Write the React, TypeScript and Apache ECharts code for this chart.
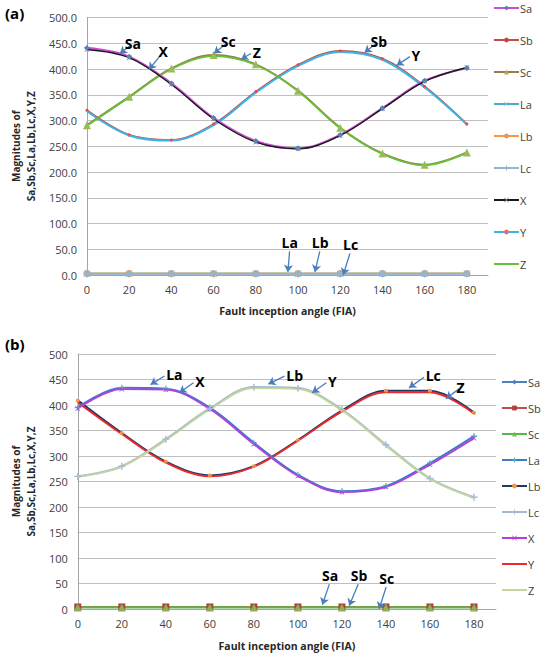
import React, { useEffect, useRef } from 'react';
import * as echarts from 'echarts';

// fault inception angles (x axis)
const angles = [0, 20, 40, 60, 80, 100, 120, 140, 160, 180];
const legendNames = ['Sa', 'Sb', 'Sc', 'La', 'Lb', 'Lc', 'X', 'Y', 'Z'];

// panel (a)
const aSa = [441, 424, 372, 305, 260, 246, 272, 324, 377, 402];
const aSb = [320, 272, 262, 293, 356, 408, 435, 420, 366, 293];
const aSc = [291, 346, 401, 427, 409, 358, 286, 236, 214, 238];
const aLa = [2.5, 2.5, 2.5, 2.5, 2.5, 2.5, 2.5, 2.5, 2.5, 2.5];
const aLb = [3, 3, 3, 3, 3, 3, 3, 3, 3, 3];
const aLc = [2, 2, 2, 2, 2, 2, 2, 2, 2, 2];
const aX = [438, 422, 370, 303, 258, 245, 271, 323, 376, 403];
const aY = [318, 271, 261, 291, 354, 406, 433, 418, 364, 292];
const aZ = [290, 345, 400, 425, 408, 357, 285, 235, 213, 237];

// panel (b)
const bSa = [3.5, 3.5, 3.5, 3.5, 3.5, 3.5, 3.5, 3.5, 3.5, 3.5];
const bSb = [4, 4, 4, 4, 4, 4, 4, 4, 4, 4];
const bSc = [3, 3, 3, 3, 3, 3, 3, 3, 3, 3];
const bLa = [395, 434, 432, 395, 326, 263, 231, 241, 286, 339];
const bLb = [409, 345, 289, 262, 280, 331, 389, 428, 428, 385];
const bLc = [260, 280, 333, 393, 435, 433, 391, 322, 256, 219];
const bX = [393, 431, 430, 392, 323, 261, 229, 239, 283, 335];
const bY = [405, 343, 287, 260, 279, 330, 387, 425, 425, 383];
const bZ = [259, 279, 331, 391, 433, 431, 389, 320, 255, 218];

const FONT = 'Open Sans';
const CROSS = 'path://M0,1L1,0L5,4L9,0L10,1L6,5L10,9L9,10L5,6L1,10L0,9L4,5Z';
const PLUS = 'path://M4,0H6V4H10V6H6V10H4V6H0V4H4Z';
const ARROW_COLOR = '#4A7EBB';

// annotation arrow from tail (label side) to tip, in data units
function arrow(tail: number[], tip: number[]) {
  return {
    silent: true,
    symbol: ['none', 'arrow'],
    symbolSize: 7,
    lineStyle: { color: ARROW_COLOR, width: 1.3, type: 'solid' },
    label: {
      show: true,
      position: 'start',
      formatter: '{b}',
      color: '#000',
      fontFamily: FONT,
      fontWeight: 'bold',
      fontSize: 14,
      distance: 2,
    },
    data: [[{ coord: tail }, { coord: tip }]],
  };
}

function line(name: string, values: number[], s: any, ann?: any) {
  const ml = ann ? { ...ann } : undefined;
  if (ml) ml.data = [[{ ...ml.data[0][0], name }, ml.data[0][1]]];
  return {
    name,
    type: 'line',
    smooth: 0.35,
    data: angles.map((a, i) => [a, values[i]]),
    symbol: s.symbol,
    symbolSize: s.size,
    lineStyle: { color: s.line, width: s.width ?? 1.8 },
    itemStyle: { color: s.marker ?? s.line },
    markLine: ml,
    z: s.z ?? 2,
  };
}

// legend entries; series drawn without markers get a plain line icon
function legendData(noMarker: string[]) {
  return legendNames.map((n) => (noMarker.includes(n) ? { name: n, itemStyle: { opacity: 0 } } : { name: n }));
}

function baseOption(tag: string, fmt: (v: number) => string, grid: any, legendTop: number, legendLeft: number, gap: number, titleTop: number, nameGapX: number, noMarker: string[]) {
  return {
    animation: false,
    textStyle: { fontFamily: FONT },
    title: {
      text: tag,
      left: 0,
      top: titleTop,
      textStyle: { fontFamily: FONT, fontWeight: 'bold', fontSize: 15, color: '#000' },
    },
    grid,
    legend: {
      orient: 'vertical',
      left: legendLeft,
      top: legendTop,
      padding: 0,
      data: legendData(noMarker),
      itemWidth: 25,
      itemHeight: 6,
      itemGap: gap,
      selectedMode: false,
      textStyle: { fontFamily: FONT, fontSize: 11, lineHeight: 12, color: '#404040', padding: [0, 0, 0, -4] },
    },
    xAxis: {
      type: 'value',
      min: 0,
      max: 190,
      interval: 20,
      name: 'Fault inception angle (FIA)',
      nameLocation: 'middle',
      nameGap: nameGapX,
      nameTextStyle: { fontFamily: FONT, fontWeight: 'bold', fontSize: 10.5, color: '#262626' },
      axisLine: { show: true, lineStyle: { color: '#A6A6A6' } },
      axisTick: { show: false },
      splitLine: { show: false },
      axisLabel: { showMaxLabel: false, color: '#404040', fontSize: 11, margin: 9 },
    },
    yAxis: {
      type: 'value',
      min: 0,
      max: 500,
      interval: 50,
      name: 'Magnitudes of\nSa,Sb,Sc,La,Lb,Lc,X,Y,Z',
      nameLocation: 'middle',
      nameRotate: 90,
      nameGap: 33,
      nameTextStyle: { fontFamily: FONT, fontWeight: 'bold', fontSize: 10, color: '#262626', lineHeight: 15 },
      axisLine: { show: true, lineStyle: { color: '#A6A6A6' } },
      axisTick: { show: false },
      splitLine: { lineStyle: { color: '#BFBFBF' } },
      axisLabel: { formatter: fmt, color: '#404040', fontSize: 11, margin: 10 },
    },
  };
}

const optionA = {
  ...baseOption('(a)', (v) => v.toFixed(1), { left: 74, right: 58, top: 17.5, bottom: 53 }, 2, 493, 20, 0, 30, ['Z']),
  series: [
    line('Sb', aSb, { line: '#C0504D', marker: '#D0403C', symbol: 'circle', size: 3 }, arrow([137.5, 451], [131.5, 432])),
    line('Y', aY, { line: '#3DB5E6', marker: '#E07070', symbol: 'circle', size: 2, width: 2 }, arrow([153, 424], [146.7, 407])),
    line('Sc', aSc, { line: '#A0784A', marker: '#9BBB59', symbol: 'triangle', size: 8, width: 2 }, arrow([66.2, 450], [60.2, 430])),
    line('Z', aZ, { line: '#66C23A', marker: '#66C23A', symbol: 'circle', size: 1, width: 1.8 }, arrow([77.7, 430], [73.1, 419])),
    line('Sa', aSa, { line: '#C84FD0', marker: '#4F81BD', symbol: 'diamond', size: 6, width: 2.2 }, arrow([21, 447], [15.6, 430])),
    line('X', aX, { line: '#1A1A1A', marker: '#7F7F9F', symbol: CROSS, size: 5, width: 1.4 }, arrow([35.5, 430], [29.4, 399])),
    line('La', aLa, { line: '#4BACC6', marker: '#7FC8DC', symbol: CROSS, size: 7 }, arrow([96, 46], [95.2, 6])),
    line('Lc', aLc, { line: '#95B3D7', marker: '#95B3D7', symbol: PLUS, size: 7 }, arrow([124.6, 42], [121.4, 0])),
    line('Lb', aLb, { line: '#F79646', marker: '#E8955A', symbol: 'circle', size: 7, z: 1 }, arrow([110.3, 46], [108, 6])),
  ],
};

const optionB = {
  ...baseOption('(b)', (v) => String(v), { left: 76, right: 50, top: 26, bottom: 41 }, 48, 501, 14, 3, 31, ['Y', 'Z']),
  series: [
    line('Sa', bSa, { line: '#4F81BD', marker: '#4F81BD', symbol: 'diamond', size: 7 }, arrow([114.3, 48.7], [111.1, 8.2])),
    line('Sb', bSb, { line: '#C0504D', marker: '#B0413E', symbol: 'rect', size: 7 }, arrow([127.4, 48.7], [123.3, 6.3])),
    line('Sc', bSc, { line: '#55B84A', marker: '#8DAF55', symbol: 'triangle', size: 8, width: 2.2 }, arrow([140.1, 43], [136.9, 0])),
    line('Lb', bLb, { line: '#1F3864', marker: '#F79646', symbol: 'circle', size: 4, width: 2 }, arrow([93.9, 456.5], [86.6, 441])),
    line('Y', bY, { line: '#F02A2A', marker: '#F02A2A', symbol: 'circle', size: 1, width: 1.8 }, arrow([112.9, 443.5], [106.5, 424])),
    line('La', bLa, { line: '#3E7CC4', marker: '#4BACC6', symbol: PLUS, size: 6, width: 2 }, arrow([39.4, 457], [33.1, 440])),
    line('X', bX, { line: '#B040E0', marker: '#B040E0', symbol: CROSS, size: 5, width: 1.8 }, arrow([52.6, 443.5], [46.2, 424.4])),
    line('Lc', bLc, { line: '#A8B9CF', marker: '#A8B9CF', symbol: PLUS, size: 7, width: 2.2 }, arrow([157.3, 454.6], [150.5, 433.6])),
    line('Z', bZ, { line: '#C4D79B', marker: '#C4D79B', symbol: 'circle', size: 1, width: 1.8 }, arrow([173.2, 431.6], [167.3, 412.5])),
  ],
};

function Panel({ option, top }: { option: any; top: number }) {
  const ref = useRef<HTMLDivElement>(null);
  useEffect(() => {
    if (!ref.current) return;
    const chart = echarts.init(ref.current, undefined, { renderer: 'svg' });
    chart.setOption(option);
    return () => chart.dispose();
  }, [option]);
  return <div ref={ref} style={{ position: 'absolute', left: 0, top, width: 546, height: 328 }} />;
}

export default function App() {
  return (
    <div style={{ position: 'absolute', left: 0, top: 0, width: 546, height: 656, background: '#fff' }}>
      <Panel option={optionA} top={0} />
      <Panel option={optionB} top={328} />
    </div>
  );
}
